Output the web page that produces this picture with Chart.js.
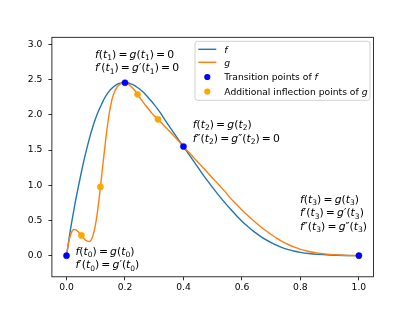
<!DOCTYPE html>
<html>
<head>
<meta charset="utf-8">
<script src="https://cdn.jsdelivr.net/npm/chart.js@4"></script>
<style>
html,body{margin:0;padding:0;background:#fff;}
canvas{display:block;}
</style>
</head>
<body>
<canvas id="c" width="415" height="311"></canvas>
<script>
// ---- data ----
const fX = [0,0.005,0.01,0.015,0.02,0.03,0.04,0.05,0.06,0.07,0.08,0.09,0.10,0.11,0.12,0.13,0.14,0.15,0.16,0.17,0.18,0.19,0.20,
  0.21,0.22,0.23,0.24,0.25,0.26,0.27,0.28,0.29,0.30,0.31,0.32,0.33,0.34,0.35,0.36,0.37,0.38,0.39,0.40,
  0.42,0.44,0.46,0.48,0.50,0.52,0.54,0.56,0.58,0.60,0.62,0.64,0.66,0.68,0.70,0.72,0.74,0.76,0.78,0.80,0.83,0.86,0.90,0.95,1.00];
const fY = [0,0.14,0.28,0.41,0.53,0.76,0.97,1.17,1.36,1.53,1.69,1.83,1.955,2.06,2.15,2.235,2.30,2.355,2.395,2.425,2.445,2.453,2.455,
  2.451,2.439,2.42,2.395,2.365,2.329,2.288,2.243,2.195,2.144,2.09,2.033,1.97,1.905,1.845,1.785,1.725,1.665,1.607,1.55,
  1.43,1.31,1.19,1.075,0.965,0.86,0.76,0.665,0.575,0.49,0.415,0.345,0.285,0.23,0.185,0.145,0.11,0.085,0.063,0.047,0.03,0.019,0.01,0.003,0];

const gX = [0,0.004,0.008,0.012,0.016,0.02,0.025,0.03,0.035,0.04,0.045,0.051,0.056,0.061,0.066,0.071,0.077,
  0.085,0.092,0.100,0.108,0.116,0.125,0.135,0.145,0.155,0.165,0.175,0.185,0.20,
  0.205,0.21,0.215,0.22,0.225,0.23,0.235,0.243,0.25,0.26,0.27,0.28,0.29,0.30,0.313,0.33,0.35,0.37,0.385,0.40,
  0.42,0.44,0.46,0.48,0.50,0.52,0.54,0.56,0.58,0.60,0.62,0.64,0.66,0.68,0.70,0.72,0.74,0.76,0.78,0.80,0.83,0.86,0.90,0.95,1.00];
const gY = [0,0.11,0.20,0.27,0.32,0.355,0.372,0.37,0.358,0.34,0.318,0.288,0.262,0.238,0.219,0.206,0.20,
  0.228,0.305,0.461,0.689,0.976,1.315,1.68,1.99,2.21,2.335,2.405,2.44,2.455,
  2.45,2.44,2.423,2.405,2.385,2.362,2.338,2.29,2.249,2.191,2.136,2.084,2.033,1.985,1.935,1.862,1.776,1.688,1.62,1.55,
  1.46,1.37,1.28,1.19,1.10,1.01,0.92,0.82,0.735,0.65,0.57,0.495,0.425,0.36,0.30,0.245,0.195,0.155,0.12,0.09,0.06,0.036,0.018,0.005,0];

const transX = [0, 0.2, 0.4, 1.0];
const transY = [0, 2.455, 1.55, 0];
const inflX = [0.051, 0.116, 0.243, 0.313];
const inflY = [0.288, 0.976, 2.29, 1.935];

const xTicks = [0, 0.2, 0.4, 0.6, 0.8, 1.0];
const yTicks = [0, 0.5, 1.0, 1.5, 2.0, 2.5, 3.0];

const legendLabels = [['f'], ['g'], ['Transition points of ', 'f'], ['Additional inflection points of ', 'g']];

const annotations = [
  {x: 0.0974, y: 2.863, lines: ["f(t_1) = g(t_1) = 0", "f′(t_1) = g′(t_1) = 0"]},
  {x: 0.0307, y: 0.066, lines: ["f(t_0) = g(t_0)", "f′(t_0) = g′(t_0)"]},
  {x: 0.4316, y: 1.865, lines: ["f(t_2) = g(t_2)", "f″(t_2) = g″(t_2) = 0"]},
  {x: 0.7986, y: 0.805, lines: ["f(t_3) = g(t_3)", "f′(t_3) = g′(t_3)", "f″(t_3) = g″(t_3)"]}
];

const C_F = '#1f77b4', C_G = '#ff7f0e', C_T = '#0000ff', C_I = '#ffa500';
const FONT = '"DejaVu Sans"';

function pts(xs, ys) { return xs.map((v, i) => ({x: v, y: ys[i]})); }

function drawMath(ctx, str, x, y, size) {
  let cx = x;
  ctx.fillStyle = '#000';
  ctx.textBaseline = 'alphabetic';
  ctx.textAlign = 'left';
  for (let i = 0; i < str.length; i++) {
    const ch = str[i];
    if (ch === ' ') continue;
    if (ch === '_') {
      const s = str[i + 1];
      ctx.font = (size * 0.7) + 'px ' + FONT;
      ctx.fillText(s, cx, y + size * 0.2);
      cx += ctx.measureText(s).width;
      i++;
      continue;
    }
    if (ch === '=') {
      cx += size * 0.2;
      ctx.font = size + 'px ' + FONT;
      ctx.fillText('=', cx, y);
      cx += ctx.measureText('=').width + size * 0.2;
      continue;
    }
    ctx.font = (/[a-z]/.test(ch) ? 'italic ' : '') + size + 'px ' + FONT;
    ctx.fillText(ch, cx, y);
    cx += ctx.measureText(ch).width;
  }
}

const overlay = {
  id: 'overlay',
  afterDraw(chart) {
    const ctx = chart.ctx, a = chart.chartArea, xs = chart.scales.x, ys = chart.scales.y;
    ctx.save();
    // spines
    ctx.strokeStyle = '#000';
    ctx.lineWidth = 0.8;
    ctx.strokeRect(a.left, a.top, a.right - a.left, a.bottom - a.top);
    // annotations
    annotations.forEach(an => {
      const px = xs.getPixelForValue(an.x);
      const py = ys.getPixelForValue(an.y);
      an.lines.forEach((l, i) => drawMath(ctx, l, px, py + i * 13.7 + 3.7, 10.8));
    });
    // legend
    const L = a.right - 3.5, T = a.top + 4, W = 175, H = 59;
    const lx = L - W;
    ctx.beginPath();
    ctx.roundRect(lx, T, W, H, 2.5);
    ctx.fillStyle = 'rgba(255,255,255,0.8)';
    ctx.fill();
    ctx.strokeStyle = '#cccccc';
    ctx.lineWidth = 0.9;
    ctx.stroke();
    const rows = [T + 8, T + 21, T + 35.7, T + 50.3];
    const hx0 = lx + 3.3, hx1 = lx + 21.3, tx = lx + 29.3;
    [[C_F, 0], [C_G, 1]].forEach(([c, r]) => {
      ctx.beginPath();
      ctx.moveTo(hx0, rows[r]); ctx.lineTo(hx1, rows[r]);
      ctx.strokeStyle = c; ctx.lineWidth = 1.4; ctx.stroke();
    });
    [[C_T, 2], [C_I, 3]].forEach(([c, r]) => {
      ctx.beginPath();
      ctx.arc((hx0 + hx1) / 2, rows[r], 3.1, 0, Math.PI * 2);
      ctx.fillStyle = c; ctx.fill();
    });
    ctx.fillStyle = '#000';
    ctx.textBaseline = 'alphabetic';
    legendLabels.forEach((parts, r) => {
      let cx = tx;
      parts.forEach(p => {
        const ital = p.length === 1;
        ctx.font = (ital ? 'italic ' : '') + '9.2px ' + FONT;
        ctx.fillText(p, cx, rows[r] + 3.3);
        cx += ctx.measureText(p).width;
      });
    });
    ctx.restore();
  }
};

const tickCommon = {color: '#000', font: {family: 'DejaVu Sans', size: 9.2}};
const gridCommon = {display: true, drawOnChartArea: false, drawTicks: true, tickLength: 3.5, color: '#000', lineWidth: 0.8};

new Chart(document.getElementById('c'), {
  type: 'scatter',
  data: {
    datasets: [
      {label: 'Transition points of f', data: pts(transX, transY), showLine: false,
        pointRadius: 3.1, pointBackgroundColor: C_T, pointBorderColor: C_T, pointBorderWidth: 0.5, order: 0},
      {label: 'Additional inflection points of g', data: pts(inflX, inflY), showLine: false,
        pointRadius: 3.1, pointBackgroundColor: C_I, pointBorderColor: C_I, pointBorderWidth: 0.5, order: 1},
      {label: 'g', data: pts(gX, gY), showLine: true, borderColor: C_G, borderWidth: 1.4,
        pointRadius: 0, cubicInterpolationMode: 'monotone', order: 2},
      {label: 'f', data: pts(fX, fY), showLine: true, borderColor: C_F, borderWidth: 1.4,
        pointRadius: 0, cubicInterpolationMode: 'monotone', order: 3}
    ]
  },
  options: {
    responsive: false,
    animation: false,
    devicePixelRatio: 1,
    layout: {padding: {top: 37.3, right: 41.5, left: 0, bottom: 0}, autoPadding: false},
    plugins: {legend: {display: false}, tooltip: {enabled: false}},
    scales: {
      x: {
        type: 'linear', min: -0.05, max: 1.05,
        afterBuildTicks: s => { s.ticks = xTicks.map(v => ({value: v})); },
        afterFit: s => { s.height = 34.2; },
        ticks: Object.assign({padding: 2, maxRotation: 0, callback: v => v.toFixed(1)}, tickCommon),
        grid: gridCommon,
        border: {display: false}
      },
      y: {
        type: 'linear', min: -0.3, max: 3.1,
        afterBuildTicks: s => { s.ticks = yTicks.map(v => ({value: v})); },
        afterFit: s => { s.width = 51.9; },
        ticks: Object.assign({padding: 6, callback: v => v.toFixed(1)}, tickCommon),
        grid: gridCommon,
        border: {display: false}
      }
    }
  },
  plugins: [overlay]
});
</script>
</body>
</html>
